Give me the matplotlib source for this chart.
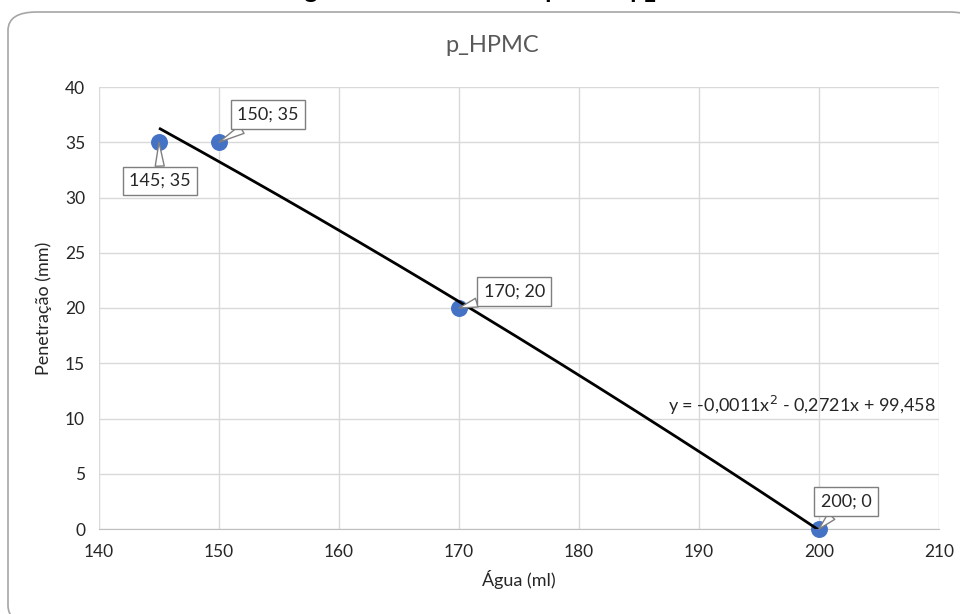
import numpy as np
import matplotlib
matplotlib.use("Agg")
import matplotlib.pyplot as plt
from matplotlib.patches import FancyBboxPatch

plt.rcParams['font.family'] = ['Lato', 'DejaVu Sans']

# Data
agua = [145, 150, 170, 200]
penetracao = [35, 35, 20, 0]
x_ticks = [140, 150, 160, 170, 180, 190, 200, 210]
y_ticks = [0, 5, 10, 15, 20, 25, 30, 35, 40]
point_labels = ["145; 35", "150; 35", "170; 20", "200; 0"]
label_offsets = [(0.1, -3.5), (4.1, 2.5), (4.6, 1.5), (2.25, 2.5)]

fig = plt.figure(figsize=(9.6, 6.14), dpi=100)

# Rounded chart frame, drawn behind the axes
frame = FancyBboxPatch((8 / 960, -10 / 614), 970 / 960, (614 - 12 + 10) / 614,
                       boxstyle="round,pad=0,rounding_size=0.03",
                       transform=fig.transFigure, facecolor="white",
                       edgecolor="#A6A6A6", linewidth=1.2, clip_on=False,
                       zorder=-10)
fig.patches.append(frame)

# Document caption above the chart (mostly outside the canvas)
fig.text(200 / 960, 1 + 2.5 / 614, "Teor de água ótimo na mistura para as p_HPMC",
         ha="left", va="baseline", fontsize=18, fontweight="bold", color="black")

ax = fig.add_axes([99 / 960, 1 - 529 / 614, 840 / 960, 442 / 614], zorder=2)
ax.set_xlim(140, 210)
ax.set_ylim(0, 40)
ax.set_xticks(x_ticks)
ax.set_yticks(y_ticks)
ax.grid(True, color="#D9D9D9", linewidth=1.0)
ax.set_axisbelow(True)
for side in ["top", "right", "left"]:
    ax.spines[side].set_visible(False)
ax.spines["bottom"].set_color("#BFBFBF")
ax.tick_params(length=0, labelsize=12.5, colors="#262626", pad=10)
ax.tick_params(axis="x", pad=11)
ax.patch.set_alpha(0)

ax.set_xlabel("Água (ml)", fontsize=13, color="#262626", labelpad=7)
ax.set_ylabel("Penetração (mm)", fontsize=13, color="#262626", labelpad=9)
fig.text(492 / 960, 1 - 46 / 614, "p_HPMC", fontsize=17, color="#595959",
         ha="center", va="center")

ax.scatter(agua, penetracao, s=125, color="#4472C4", zorder=3, clip_on=False)

# Polynomial trend line (order 2)
coef = np.polyfit(agua, penetracao, 2)
xs = np.linspace(min(agua), max(agua), 200)
ax.plot(xs, np.polyval(coef, xs), color="black", linewidth=2.0, zorder=4,
        solid_capstyle="butt")

def fmt(v, nd):
    return f"{abs(v):.{nd}f}".replace(".", ",")

a, b, c = coef
eq = (f"y = {'-' if a < 0 else ''}{fmt(a, 4)}x$^2$ {'-' if b < 0 else '+'} "
      f"{fmt(b, 4)}x {'-' if c < 0 else '+'} {fmt(c, 3)}")
ax.text(187.4, 11.2, eq, fontsize=13, color="#262626", va="center", ha="left",
        zorder=5)

# Data labels as callouts
for x, y, lab, (dx, dy) in zip(agua, penetracao, point_labels, label_offsets):
    ax.annotate(lab, xy=(x, y), xytext=(x + dx, y + dy),
                fontsize=13, color="#262626", ha="center", va="center",
                bbox=dict(boxstyle="square,pad=0.35", fc="white", ec="#7F7F7F",
                          lw=1.0),
                arrowprops=dict(arrowstyle="wedge,tail_width=0.5,shrink_factor=0.5",
                                fc="white", ec="#7F7F7F", lw=1.0,
                                shrinkA=0, shrinkB=0),
                zorder=6, annotation_clip=False)

fig.savefig("out.png", dpi=100)
